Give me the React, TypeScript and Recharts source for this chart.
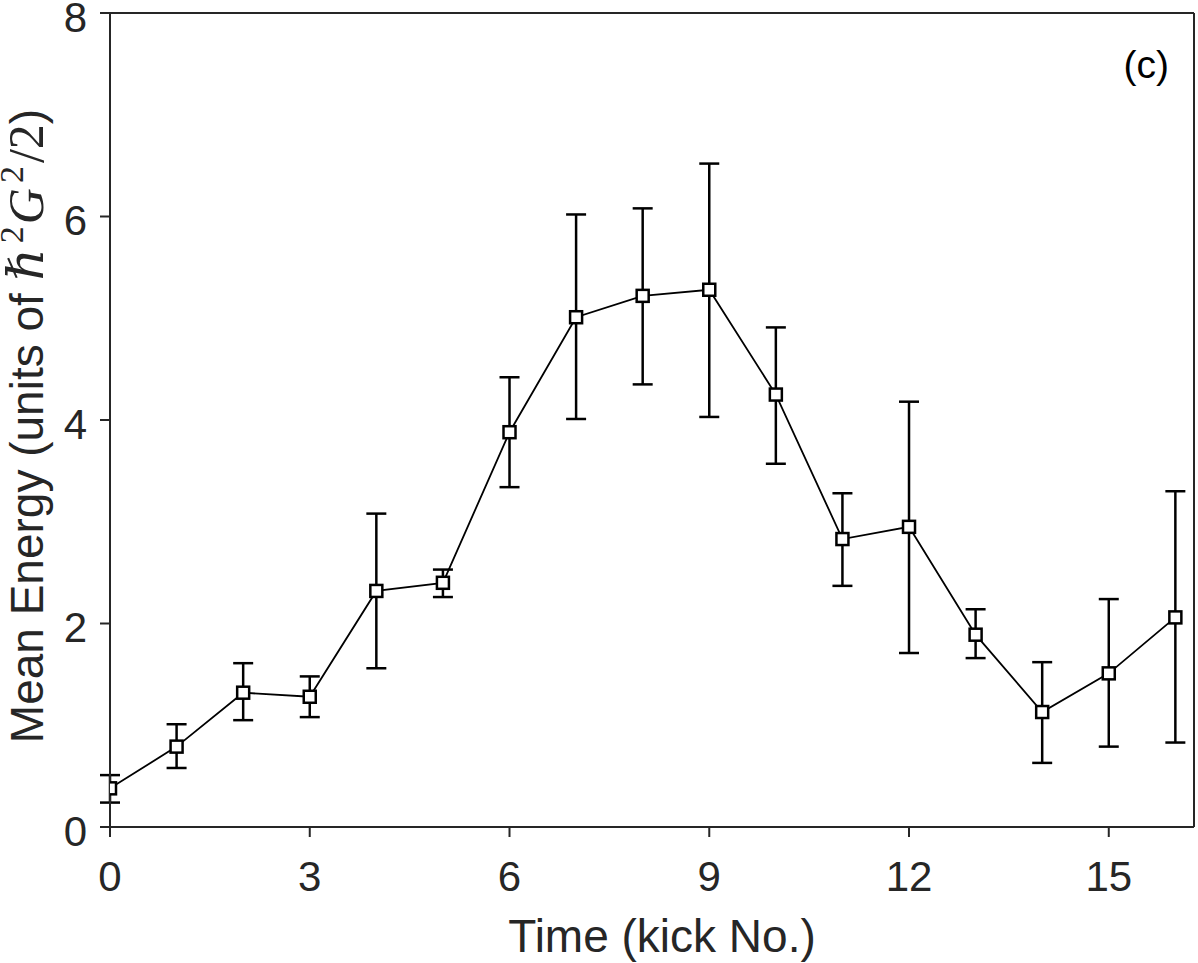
import React from "react";
import {
  LineChart,
  Line,
  XAxis,
  YAxis,
  ErrorBar,
  ReferenceLine,
  Customized,
} from "recharts";

// values (kick number -> mean energy, error bar ends)
const kicks = [0, 1, 2, 3, 4, 5, 6, 7, 8, 9, 10, 11, 12, 13, 14, 15, 16];
const meanEnergy = [0.38, 0.79, 1.32, 1.28, 2.32, 2.4, 3.88, 5.01, 5.22, 5.28, 4.25, 2.83, 2.95, 1.89, 1.13, 1.51, 2.06];
const upperEnd = [0.51, 1.01, 1.61, 1.48, 3.08, 2.53, 4.42, 6.02, 6.08, 6.52, 4.91, 3.28, 4.18, 2.14, 1.62, 2.24, 3.3];
const lowerEnd = [0.24, 0.58, 1.05, 1.08, 1.56, 2.26, 3.34, 4.01, 4.35, 4.03, 3.57, 2.37, 1.71, 1.66, 0.63, 0.79, 0.83];
const xTicks = [0, 3, 6, 9, 12, 15];
const yTicks = [0, 2, 4, 6, 8];
const xMax = 16.28;
const yMax = 8;

const data = kicks.map((k, i) => ({
  kick: k,
  energy: meanEnergy[i],
  err: [meanEnergy[i] - lowerEnd[i], upperEnd[i] - meanEnergy[i]],
}));

const SANS = "'Liberation Sans', Arial, Helvetica, sans-serif";
const MATH = "'Liberation Serif', 'DejaVu Serif', serif";
const AXIS = "#262626";

const SquareDot = (props: any) => {
  const { cx, cy, index } = props;
  if (cx == null || cy == null) return null;
  return (
    <rect
      key={`dot-${index}`}
      x={cx - 6}
      y={cy - 6}
      width={12}
      height={12}
      fill="#fff"
      stroke="#000"
      strokeWidth={2.5}
    />
  );
};

const XTick = (props: any) => {
  const { x, y, payload } = props;
  return (
    <text x={x} y={y + 22} dy="0.71em" textAnchor="middle" fontSize={42} fill={AXIS} fontFamily={SANS}>
      {payload.value}
    </text>
  );
};

const YTick = (props: any) => {
  const { x, y, payload } = props;
  return (
    <text x={x - 11} y={y + 4} dy="0.355em" textAnchor="end" fontSize={42} fill={AXIS} fontFamily={SANS}>
      {payload.value}
    </text>
  );
};

const Labels = () => (
  <g>
    <text x={662} y={952} textAnchor="middle" fontSize={46} fill={AXIS} fontFamily={SANS}>
      Time (kick No.)
    </text>
    <text
      transform="rotate(-90)"
      x={-426}
      y={43}
      textAnchor="middle"
      fontSize={46}
      fill={AXIS}
      fontFamily={SANS}
    >
      Mean Energy (units of{" "}
      <tspan fontFamily={MATH} fontStyle="italic" fontSize={50}>ℏ</tspan>
      <tspan fontFamily={MATH} fontSize={34} dx={5} dy={-20}>2</tspan>
      <tspan fontFamily={MATH} fontStyle="italic" fontSize={50} dx={2} dy={20}>G</tspan>
      <tspan fontFamily={MATH} fontSize={34} dx={5} dy={-20}>2</tspan>
      <tspan fontFamily={MATH} fontSize={50} dx={3} dy={20}>/2</tspan>
      <tspan>)</tspan>
    </text>
    <text x={1169} y={78} textAnchor="end" fontSize={39} fill="#000" fontFamily={SANS}>
      (c)
    </text>
  </g>
);

export default function App() {
  return (
    <div style={{ position: "absolute", left: 0, top: 0, width: 1198, height: 963, background: "#fff" }}>
      <LineChart
        width={1198}
        height={963}
        data={data}
        margin={{ top: 13, right: 4, bottom: 76, left: 50 }}
      >
        <XAxis
          type="number"
          dataKey="kick"
          domain={[0, xMax]}
          ticks={xTicks}
          allowDataOverflow
          height={60}
          tickSize={10}
          axisLine={{ stroke: AXIS, strokeWidth: 2 }}
          tickLine={{ stroke: AXIS, strokeWidth: 2 }}
          tick={<XTick />}
        />
        <YAxis
          type="number"
          domain={[0, yMax]}
          ticks={yTicks}
          allowDataOverflow
          width={60}
          tickSize={10}
          axisLine={{ stroke: AXIS, strokeWidth: 2 }}
          tickLine={{ stroke: AXIS, strokeWidth: 2 }}
          tick={<YTick />}
        />
        <ReferenceLine y={yMax} stroke={AXIS} strokeWidth={2} />
        <ReferenceLine x={xMax} stroke={AXIS} strokeWidth={2} />
        <Line
          type="linear"
          dataKey="energy"
          stroke="#000"
          strokeWidth={1.8}
          dot={SquareDot}
          activeDot={false}
          isAnimationActive={false}
        >
          <ErrorBar dataKey="err" width={10} stroke="#000" strokeWidth={2.5} direction="y" isAnimationActive={false} />
        </Line>
        <Customized component={Labels} />
      </LineChart>
    </div>
  );
}
